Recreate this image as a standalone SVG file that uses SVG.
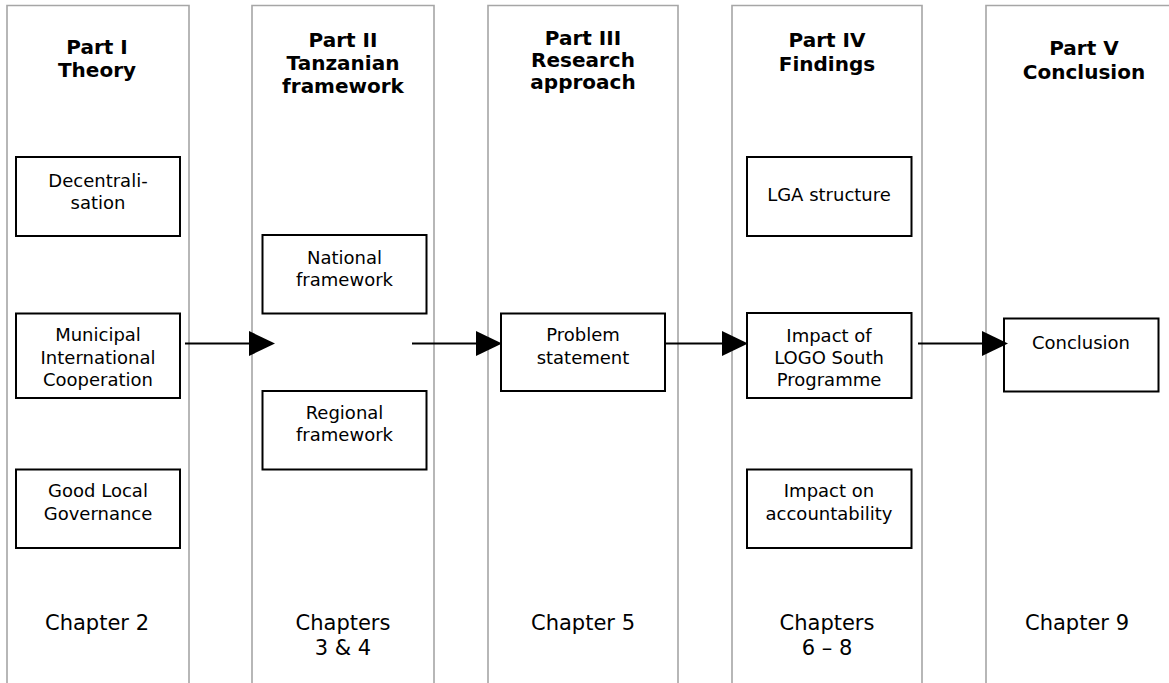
<svg xmlns="http://www.w3.org/2000/svg" width="1169" height="683" viewBox="0 0 1169 683">
<style>
.col{fill:none;stroke:#a6a6a6;stroke-width:1.6}
.box{fill:#fff;stroke:#000;stroke-width:2}
.conn{stroke:#000;stroke-width:2;fill:none}
text{font-family:"DejaVu Sans","Noto Sans",sans-serif;fill:#000;text-anchor:middle}
.hd{font-size:20px;font-weight:bold}
.bt{font-size:18px}
.ch{font-size:21px}
</style>
<defs>
<marker id="ah" markerUnits="userSpaceOnUse" markerWidth="27" markerHeight="26" refX="0" refY="12.5" orient="auto" overflow="visible">
<path d="M0,0 L26,12.5 L0,25 Z" fill="#000"/>
</marker>
</defs>
<rect width="1169" height="683" fill="#fff"/>

<g id="col1">
<path class="col" d="M7,683 V5.5 H189 V683"/>
<text class="hd" x="97" y="54">Part I</text>
<text class="hd" x="97" y="77">Theory</text>
<text class="ch" x="97" y="630">Chapter 2</text>
</g>
<g id="col2">
<path class="col" d="M252,683 V5.5 H434 V683"/>
<text class="hd" x="343" y="47">Part II</text>
<text class="hd" x="343" y="70">Tanzanian</text>
<text class="hd" x="343" y="93">framework</text>
<text class="ch" x="343" y="630">Chapters</text>
<text class="ch" x="343" y="655">3 &amp; 4</text>
</g>
<g id="col3">
<path class="col" d="M488,683 V5.5 H678 V683"/>
<text class="hd" x="583" y="45">Part III</text>
<text class="hd" x="583" y="67">Research</text>
<text class="hd" x="583" y="89">approach</text>
<text class="ch" x="583" y="630">Chapter 5</text>
</g>
<g id="col4">
<path class="col" d="M732,683 V5.5 H922 V683"/>
<text class="hd" x="827" y="47">Part IV</text>
<text class="hd" x="827" y="71">Findings</text>
<text class="ch" x="827" y="630">Chapters</text>
<text class="ch" x="827" y="655">6 – 8</text>
</g>
<g id="col5">
<path class="col" d="M986,683 V5.5 H1175"/>
<text class="hd" x="1084" y="55">Part V</text>
<text class="hd" x="1084" y="79">Conclusion</text>
<text class="ch" x="1077" y="630">Chapter 9</text>
</g>

<g id="decentralisation">
<rect class="box" x="16" y="157" width="164" height="79"/>
<text class="bt" x="98" y="186.5">Decentrali-</text>
<text class="bt" x="98" y="208.5">sation</text>
</g>
<g id="mic">
<rect class="box" x="16" y="313.5" width="164" height="84.5"/>
<text class="bt" x="98" y="341">Municipal</text>
<text class="bt" x="98" y="364">International</text>
<text class="bt" x="98" y="386">Cooperation</text>
</g>
<g id="glg">
<rect class="box" x="16" y="469.5" width="164" height="78.5"/>
<text class="bt" x="98" y="497">Good Local</text>
<text class="bt" x="98" y="520">Governance</text>
</g>
<g id="national">
<rect class="box" x="262.5" y="235" width="164" height="78.5"/>
<text class="bt" x="344.5" y="263.5">National</text>
<text class="bt" x="344.5" y="285.5">framework</text>
</g>
<g id="regional">
<rect class="box" x="262.5" y="391" width="164" height="78.5"/>
<text class="bt" x="344.5" y="418.5">Regional</text>
<text class="bt" x="344.5" y="440.5">framework</text>
</g>
<g id="problem">
<rect class="box" x="501" y="313.5" width="164" height="77.5"/>
<text class="bt" x="583" y="341">Problem</text>
<text class="bt" x="583" y="363.5">statement</text>
</g>
<g id="lga">
<rect class="box" x="747" y="157" width="164.5" height="79"/>
<text class="bt" x="829" y="201">LGA structure</text>
</g>
<g id="logo">
<rect class="box" x="747" y="313" width="164.5" height="85"/>
<text class="bt" x="829" y="341.5">Impact of</text>
<text class="bt" x="829" y="363.5">LOGO South</text>
<text class="bt" x="829" y="385.5">Programme</text>
</g>
<g id="accountability">
<rect class="box" x="747" y="469.5" width="164.5" height="78.5"/>
<text class="bt" x="829" y="496.5">Impact on</text>
<text class="bt" x="829" y="519.5">accountability</text>
</g>
<g id="conclusion">
<rect class="box" x="1004" y="318.5" width="154.5" height="73"/>
<text class="bt" x="1081" y="348.5">Conclusion</text>
</g>

<g id="connectors">
<line class="conn" x1="185" y1="343.5" x2="249" y2="343.5" marker-end="url(#ah)"/>
<line class="conn" x1="412" y1="343.5" x2="476" y2="343.5" marker-end="url(#ah)"/>
<line class="conn" x1="665" y1="343.5" x2="722" y2="343.5" marker-end="url(#ah)"/>
<line class="conn" x1="918" y1="343.5" x2="982" y2="343.5" marker-end="url(#ah)"/>
</g>
</svg>
